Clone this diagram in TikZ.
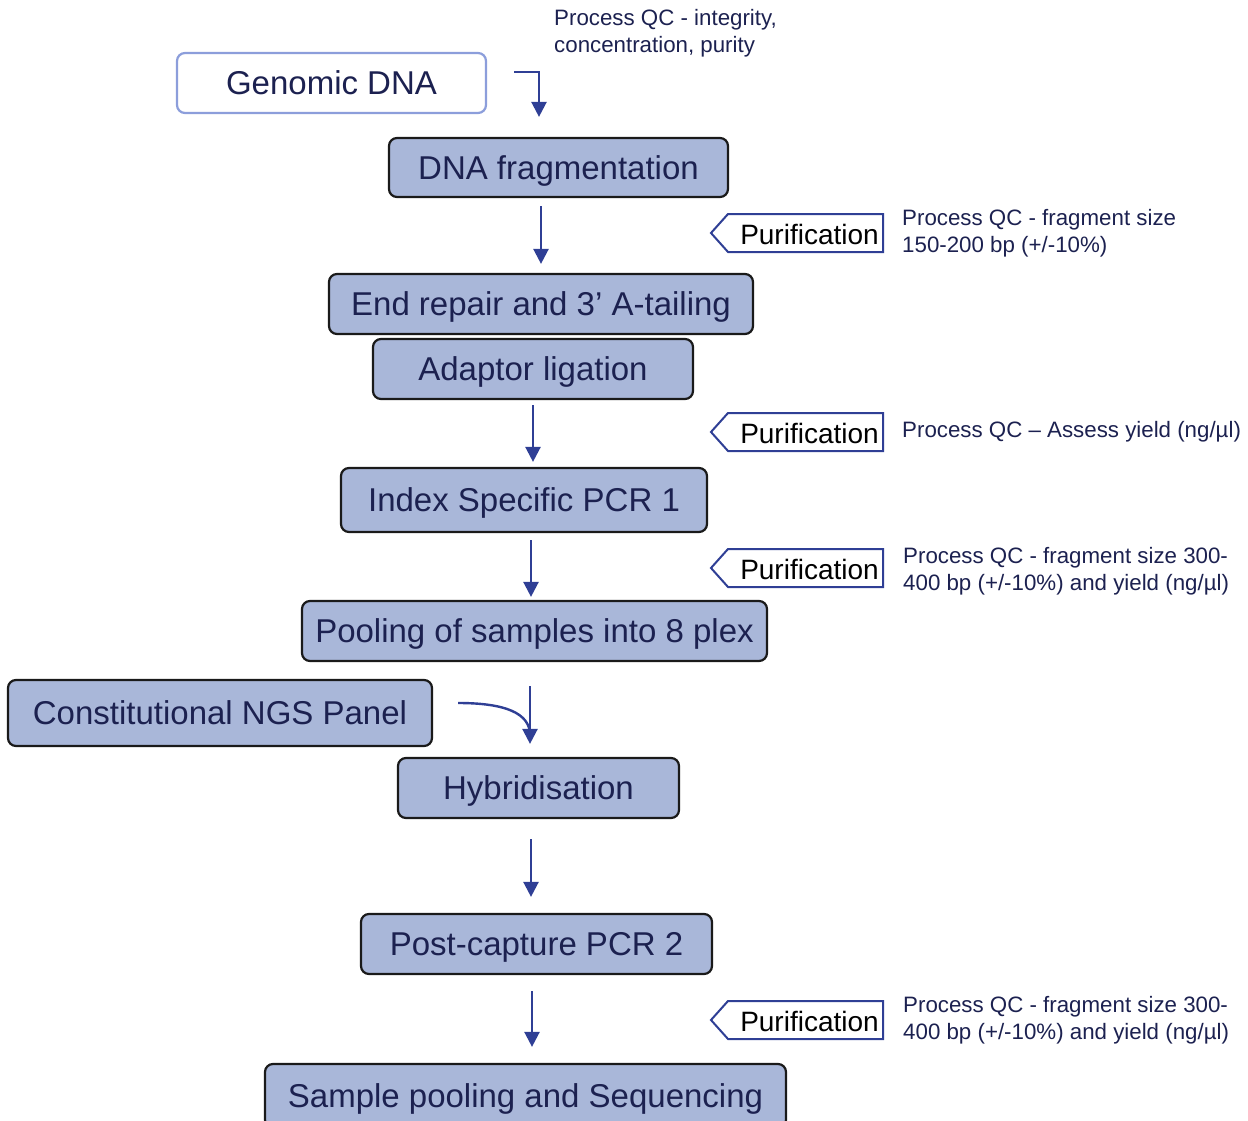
\documentclass[tikz,border=0pt]{standalone}
\usepackage{fontspec}
\setmainfont{Liberation Sans}
\usetikzlibrary{arrows.meta,calc}
\definecolor{boxfill}{HTML}{A9B7D9}
\definecolor{boxline}{HTML}{1A1A1A}
\definecolor{txt}{HTML}{1C2150}
\definecolor{arrc}{HTML}{2F3F95}
\definecolor{gline}{HTML}{8C9EDB}
\newcommand\purif[2]{%
  \draw[purbox] (711,#2) -- (728,#2-19) -- (883,#2-19) -- (883,#2+19) -- (728,#2+19) -- cycle;
  \node[purtext] (#1) at (809.5,#2+1.5) {Purification};}
\begin{document}
\begin{tikzpicture}[x=1pt,y=-1pt,
  stepbox/.style={draw=boxline, fill=boxfill, line width=2.2pt, rounded corners=8pt,
    text=txt, font=\fontsize{33}{40}\selectfont, inner sep=0pt, text height=23.6pt, text depth=0pt},
  gbox/.style={draw=gline, fill=white, line width=2.2pt, rounded corners=8pt,
    text=txt, font=\fontsize{33}{40}\selectfont, inner sep=0pt, text height=23.6pt, text depth=0pt},
  qc/.style={anchor=west, align=left, text=txt, font=\fontsize{22.3}{27}\selectfont, inner sep=0pt},
  arr/.style={draw=arrc, line width=2.4pt, -{Triangle[width=15pt,length=15pt]}},
  arrline/.style={draw=arrc, line width=2.4pt},
  purbox/.style={draw=arrc, fill=white, line width=2pt, line join=miter},
  purtext/.style={text=black, font=\fontsize{28}{32}\selectfont, inner sep=0pt, text height=20pt, text depth=0pt}
]
\useasboundingbox (0,0) rectangle (1248,1121);

% steps
\node[gbox, minimum width=309pt, minimum height=60pt] (gdna) at (331.5,83) {Genomic DNA};
\node[stepbox, minimum width=339pt, minimum height=59pt] (frag) at (558.5,167.5) {DNA fragmentation};
\node[stepbox, minimum width=424pt, minimum height=60pt] (endrep) at (541,304) {End repair and 3’ A-tailing};
\node[stepbox, minimum width=320pt, minimum height=60pt] (adapt) at (533,369) {Adaptor ligation};
\node[stepbox, minimum width=366pt, minimum height=64pt] (index) at (524,500) {Index Specific PCR 1};
\node[stepbox, minimum width=465pt, minimum height=60pt] (pool) at (534.5,631) {Pooling of samples into 8 plex};
\node[stepbox, minimum width=424pt, minimum height=66pt] (panel) at (220,713) {Constitutional NGS Panel};
\node[stepbox, minimum width=281pt, minimum height=60pt] (hyb) at (538.5,788) {Hybridisation};
\node[stepbox, minimum width=351pt, minimum height=60pt] (post) at (536.5,944) {Post-capture PCR 2};
\node[stepbox, minimum width=521pt, minimum height=64pt] (seq) at (525.5,1096) {Sample pooling and Sequencing};

% purification tags
\purif{pur1}{233}
\purif{pur2}{432}
\purif{pur3}{568}
\purif{pur4}{1020}

% QC texts
\node[qc] (qc0) at (554,33.5) {Process QC - integrity,\\concentration, purity};
\node[qc] (qc1) at (902,233.5) {Process QC - fragment size\\150-200 bp (+/-10\%)};
\node[qc] (qc2) at (902,432) {Process QC – Assess yield (ng/µl)};
\node[qc] (qc3) at (903,571.5) {Process QC - fragment size 300-\\400 bp (+/-10\%) and yield (ng/µl)};
\node[qc] (qc4) at (903,1020.5) {Process QC - fragment size 300-\\400 bp (+/-10\%) and yield (ng/µl)};

% helper coordinates
\coordinate (x530) at (530,0);
\coordinate (x531) at (531,0);
\coordinate (x532) at (532,0);
\coordinate (join) at (530,735);

% connectors
\draw[arr] ([xshift=27pt,yshift=11pt]gdna.east) -| ([xshift=-19.5pt,yshift=20pt]frag.north);
\draw[arr, shorten <=8pt, shorten >=9pt] (frag.south -| endrep.north) -- (endrep.north);
\draw[arr, shorten <=5pt, shorten >=5pt] (adapt.south) -- (adapt.south |- index.north);
\draw[arr, shorten <=7pt, shorten >=3pt] (index.south -| x531) -- (pool.north -| x531);
\draw[arr, shorten <=24pt, shorten >=13pt] (pool.south -| x530) -- (hyb.north -| x530);
\draw[arrline] ([xshift=25pt,yshift=10pt]panel.east) .. controls (505,703) and (530,713) .. (join);
\draw[arr, shorten <=20pt, shorten >=16pt] (hyb.south -| x531) -- (post.north -| x531);
\draw[arr, shorten <=16pt, shorten >=16pt] (post.south -| x532) -- (seq.north -| x532);
\end{tikzpicture}
\end{document}
